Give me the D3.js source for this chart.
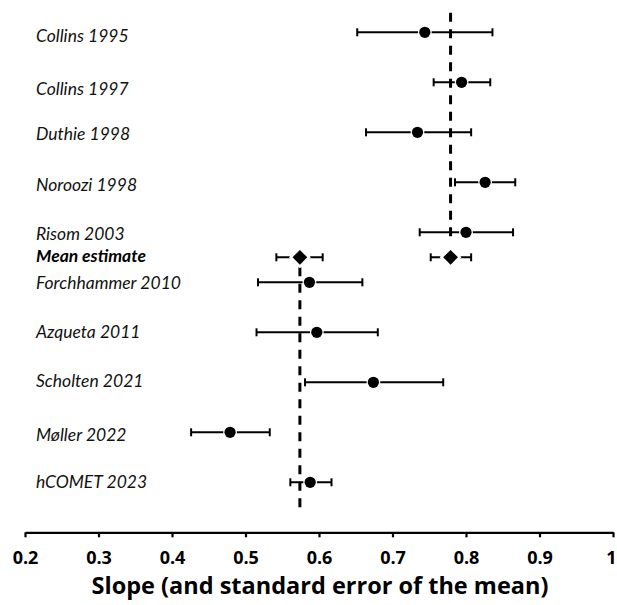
<!DOCTYPE html>
<html><head><meta charset="utf-8">
<script src="https://cdn.jsdelivr.net/npm/d3@7"></script>
<style>body{margin:0;background:#fff}svg{display:block}</style>
</head><body>
<script>
// ---- data ----
const studies = ["Collins 1995","Collins 1997","Duthie 1998","Noroozi 1998","Risom 2003",
                 "Forchhammer 2010","Azqueta 2011","Scholten 2021","Møller 2022","hCOMET 2023"];
const rowPos  = [1,2,3,4,5,6,7,8,9,10];
const slope   = [0.744,0.794,0.734,0.826,0.800,0.587,0.597,0.674,0.479,0.588];
const lower   = [0.652,0.756,0.664,0.785,0.737,0.517,0.515,0.581,0.426,0.561];
const upper   = [0.836,0.833,0.807,0.867,0.864,0.659,0.680,0.769,0.533,0.617];
const meanLabel = "Mean estimate";
const meanPos   = 5.5;
const meanSlope = [0.574,0.779];
const meanLower = [0.542,0.752];
const meanUpper = [0.605,0.807];
// dashed reference lines: value, from-row, to-row
const refValue = [0.779,0.574];
const refFrom  = [0.61,5.7];
const refTo    = [5.17,10.5];
const xTicks = [0.2,0.3,0.4,0.5,0.6,0.7,0.8,0.9,1];
const xTitle = "Slope (and standard error of the mean)";

// ---- layout ----
const W=617,H=605;
const labelBaseline=[9.4,12.5,8,9,7.3,6.3,5.6,5,8.3,5.3]; // px below row centre
const svg=d3.select("body").append("svg").attr("width",W).attr("height",H);
const x=d3.scaleLinear().domain([0.2,1]).range([25,613]);
const y=d3.scaleLinear().domain([1,11]).range([32.3,532.3]);
const axisY=y(11);

// reference dashed lines
svg.selectAll("line.ref").data(refValue).join("line").attr("class","ref")
  .attr("x1",d=>x(d)).attr("x2",d=>x(d))
  .attr("y1",(d,i)=>y(refFrom[i])).attr("y2",(d,i)=>y(refTo[i]))
  .attr("stroke","#000").attr("stroke-width",3).attr("stroke-dasharray","9,7.5");

function errBar(g,lo,hi,p){
  const yy=y(p);
  g.append("line").attr("x1",x(lo)).attr("x2",x(hi)).attr("y1",yy).attr("y2",yy)
    .attr("stroke","#000").attr("stroke-width",2);
  [lo,hi].forEach(e=>g.append("line").attr("x1",x(e)).attr("x2",x(e))
    .attr("y1",yy-4).attr("y2",yy+4).attr("stroke","#000").attr("stroke-width",2));
}
const g=svg.append("g");
studies.forEach((s,i)=>errBar(g,lower[i],upper[i],rowPos[i]));
meanSlope.forEach((m,i)=>errBar(g,meanLower[i],meanUpper[i],meanPos));

// points
g.selectAll("circle").data(slope).join("circle")
  .attr("cx",d=>x(d)).attr("cy",(d,i)=>y(rowPos[i])).attr("r",5.6)
  .attr("fill","#000").attr("stroke","#fff").attr("stroke-width",2.6)
  .attr("paint-order","stroke");
// diamonds
g.selectAll("path.dia").data(meanSlope).join("path").attr("class","dia")
  .attr("d",d=>{const cx=x(d),cy=y(meanPos),r=7.4;return `M${cx},${cy-r}L${cx+r},${cy}L${cx},${cy+r}L${cx-r},${cy}Z`;})
  .attr("fill","#000").attr("stroke","#fff").attr("stroke-width",5)
  .attr("paint-order","stroke");

// labels
svg.selectAll("text.lab").data(studies).join("text").attr("class","lab")
  .attr("x",36).attr("y",(d,i)=>y(rowPos[i])+labelBaseline[i])
  .attr("font-family","Lato, sans-serif").attr("font-style","italic").attr("font-size",17.5)
  .attr("fill","#111").text(d=>d);
svg.append("text").attr("x",36).attr("y",y(meanPos)+4.5)
  .attr("font-family","Lato, sans-serif").attr("font-style","italic").attr("font-weight","bold")
  .attr("font-size",17.5).attr("fill","#000").text(meanLabel);

// axis
const ax=svg.append("g").attr("transform",`translate(0,${axisY})`)
  .call(d3.axisBottom(x).tickValues(xTicks).tickSize(5).tickSizeOuter(0)
  .tickFormat(d=>d===1?"1":d3.format(".1f")(d)));
ax.select(".domain").attr("stroke-width",2.2);
ax.selectAll(".tick line").attr("stroke-width",2.2);
ax.selectAll(".tick text").attr("y",31.7).attr("dy",0)
  .attr("x",d=>d===1?-2:0)
  .attr("font-family","'Open Sans', sans-serif").attr("font-weight","bold")
  .attr("font-size",18).attr("fill","#000");

svg.append("text").attr("x",(x(0.2)+x(1))/2+1).attr("y",594).attr("text-anchor","middle")
  .attr("font-family","'Open Sans', sans-serif").attr("font-weight","bold").attr("font-size",23.5)
  .attr("fill","#000").text(xTitle);
</script>
</body></html>
